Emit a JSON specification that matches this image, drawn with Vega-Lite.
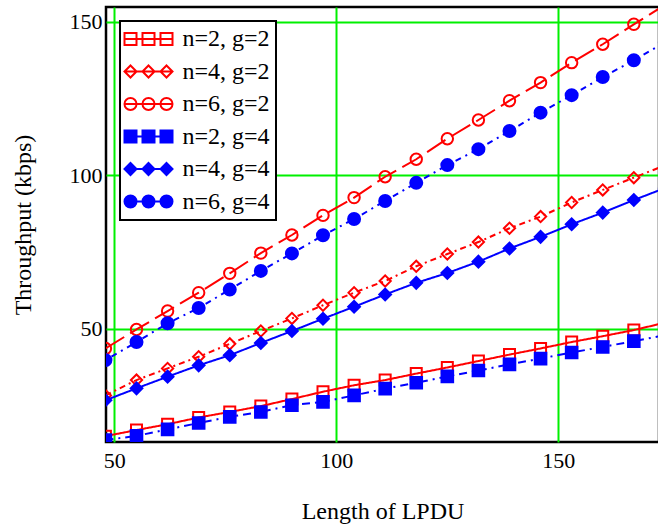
{
  "$schema": "https://vega.github.io/schema/vega-lite/v6.json",
  "width": 553,
  "height": 435,
  "autosize": {"type": "none"},
  "padding": {"left": 106, "top": 7, "right": 0, "bottom": 89},
  "background": "white",
  "config": {
    "view": {"stroke": "black", "strokeWidth": 2.5},
    "font": "Times New Roman, Liberation Serif, DejaVu Serif, serif",
    "axis": {
      "grid": true,
      "gridColor": "#00f000",
      "gridWidth": 2,
      "gridOpacity": 1,
      "ticks": false,
      "domain": false,
      "labelFont": "Times New Roman, Liberation Serif, DejaVu Serif, serif",
      "labelFontSize": 22,
      "labelColor": "black",
      "titleFont": "Times New Roman, Liberation Serif, DejaVu Serif, serif",
      "titleFontSize": 24,
      "titleFontWeight": "normal",
      "titleColor": "black"
    },
    "legend": {
      "orient": "top-left",
      "offset": 14,
      "padding": 6,
      "fillColor": "white",
      "strokeColor": "black",
      "strokeWidth": 2,
      "labelFont": "Times New Roman, Liberation Serif, DejaVu Serif, serif",
      "labelFontSize": 24,
      "labelColor": "black",
      "symbolSize": 144,
      "symbolStrokeWidth": 2,
      "symbolOffset": 10.5,
      "labelOffset": 22,
      "rowPadding": 8.5
    }
  },
  "data": {
    "values": [
      {"x": 48, "n=2, g=2": 14.9, "n=4, g=2": 28.2, "n=6, g=2": 43.5, "n=2, g=4": 13.6, "n=4, g=4": 26.6, "n=6, g=4": 39.7},
      {"x": 55, "n=2, g=2": 16.9, "n=4, g=2": 33.2, "n=6, g=2": 49.7, "n=2, g=4": 15.0, "n=4, g=4": 30.5, "n=6, g=4": 45.6},
      {"x": 62, "n=2, g=2": 18.8, "n=4, g=2": 37.0, "n=6, g=2": 55.7, "n=2, g=4": 17.1, "n=4, g=4": 34.3, "n=6, g=4": 51.7},
      {"x": 69, "n=2, g=2": 21.0, "n=4, g=2": 40.8, "n=6, g=2": 61.7, "n=2, g=4": 19.2, "n=4, g=4": 38.0, "n=6, g=4": 56.7},
      {"x": 76, "n=2, g=2": 22.8, "n=4, g=2": 45.0, "n=6, g=2": 68.0, "n=2, g=4": 21.2, "n=4, g=4": 41.3, "n=6, g=4": 62.7},
      {"x": 83, "n=2, g=2": 24.7, "n=4, g=2": 49.2, "n=6, g=2": 74.6, "n=2, g=4": 22.8, "n=4, g=4": 45.3, "n=6, g=4": 68.8},
      {"x": 90, "n=2, g=2": 27.0, "n=4, g=2": 53.3, "n=6, g=2": 80.5, "n=2, g=4": 25.0, "n=4, g=4": 49.2, "n=6, g=4": 74.5},
      {"x": 97, "n=2, g=2": 29.4, "n=4, g=2": 57.6, "n=6, g=2": 86.9, "n=2, g=4": 26.1, "n=4, g=4": 53.2, "n=6, g=4": 80.4},
      {"x": 104, "n=2, g=2": 31.5, "n=4, g=2": 61.7, "n=6, g=2": 92.7, "n=2, g=4": 28.2, "n=4, g=4": 57.1, "n=6, g=4": 85.7},
      {"x": 111, "n=2, g=2": 33.2, "n=4, g=2": 65.5, "n=6, g=2": 99.5, "n=2, g=4": 30.4, "n=4, g=4": 61.1, "n=6, g=4": 91.6},
      {"x": 118, "n=2, g=2": 35.3, "n=4, g=2": 70.3, "n=6, g=2": 105.2, "n=2, g=4": 32.3, "n=4, g=4": 64.9, "n=6, g=4": 97.5},
      {"x": 125, "n=2, g=2": 37.3, "n=4, g=2": 74.3, "n=6, g=2": 111.9, "n=2, g=4": 34.4, "n=4, g=4": 68.1, "n=6, g=4": 103.3},
      {"x": 132, "n=2, g=2": 39.4, "n=4, g=2": 78.2, "n=6, g=2": 118.0, "n=2, g=4": 36.3, "n=4, g=4": 71.8, "n=6, g=4": 108.5},
      {"x": 139, "n=2, g=2": 41.5, "n=4, g=2": 82.7, "n=6, g=2": 124.3, "n=2, g=4": 38.3, "n=4, g=4": 76.1, "n=6, g=4": 114.4},
      {"x": 146, "n=2, g=2": 43.5, "n=4, g=2": 86.5, "n=6, g=2": 130.2, "n=2, g=4": 40.2, "n=4, g=4": 79.9, "n=6, g=4": 120.4},
      {"x": 153, "n=2, g=2": 45.6, "n=4, g=2": 91.1, "n=6, g=2": 136.7, "n=2, g=4": 42.2, "n=4, g=4": 84.0, "n=6, g=4": 126.1},
      {"x": 160, "n=2, g=2": 47.5, "n=4, g=2": 95.2, "n=6, g=2": 142.7, "n=2, g=4": 44.0, "n=4, g=4": 87.8, "n=6, g=4": 132.0},
      {"x": 167, "n=2, g=2": 49.5, "n=4, g=2": 99.2, "n=6, g=2": 149.2, "n=2, g=4": 45.9, "n=4, g=4": 91.9, "n=6, g=4": 137.5},
      {"x": 174, "n=2, g=2": 51.9, "n=4, g=2": 103.2, "n=6, g=2": 155.5, "n=2, g=4": 47.8, "n=4, g=4": 95.8, "n=6, g=4": 143.3}
    ]
  },
  "transform": [
    {"fold": ["n=2, g=2", "n=4, g=2", "n=6, g=2", "n=2, g=4", "n=4, g=4", "n=6, g=4"], "as": ["series", "y"]}
  ],
  "encoding": {
    "x": {
      "field": "x",
      "type": "quantitative",
      "scale": {"domain": [48.13, 172.67], "nice": false, "zero": false},
      "axis": {"values": [50, 100, 150], "title": "Length of LPDU", "labelPadding": 8, "labelDx": 3, "titlePadding": 28}
    },
    "y": {
      "field": "y",
      "type": "quantitative",
      "scale": {"domain": [13, 154.85], "nice": false, "zero": false},
      "axis": {"values": [50, 100, 150], "title": "Throughput (kbps)", "labelPadding": 4, "labelDy": 2, "titlePadding": 34}
    }
  },
  "layer": [
    {
      "mark": {"type": "line", "strokeWidth": 2, "clip": true},
      "encoding": {
        "color": {
          "field": "series",
          "type": "nominal",
          "scale": {
            "domain": ["n=2, g=2", "n=4, g=2", "n=6, g=2", "n=2, g=4", "n=4, g=4", "n=6, g=4"],
            "range": ["#ff0000", "#ff0000", "#ff0000", "#0000ff", "#0000ff", "#0000ff"]
          },
          "legend": null
        },
        "strokeDash": {
          "field": "series",
          "type": "nominal",
          "scale": {
            "domain": ["n=2, g=2", "n=4, g=2", "n=6, g=2", "n=2, g=4", "n=4, g=4", "n=6, g=4"],
            "range": [[1, 0], [6, 4, 2, 4], [22, 7], [8, 5, 2, 5], [1, 0], [2, 5, 6, 5]]
          },
          "legend": null
        }
      }
    },
    {
      "mark": {"type": "point", "strokeWidth": 2, "filled": true, "opacity": 1, "clip": true},
      "encoding": {
        "stroke": {
          "field": "series",
          "type": "nominal",
          "scale": {
            "domain": ["n=2, g=2", "n=4, g=2", "n=6, g=2", "n=2, g=4", "n=4, g=4", "n=6, g=4"],
            "range": ["#ff0000", "#ff0000", "#ff0000", "#0000ff", "#0000ff", "#0000ff"]
          },
          "legend": null
        },
        "fill": {
          "field": "series",
          "type": "nominal",
          "scale": {
            "domain": ["n=2, g=2", "n=4, g=2", "n=6, g=2", "n=2, g=4", "n=4, g=4", "n=6, g=4"],
            "range": ["transparent", "transparent", "transparent", "#0000ff", "#0000ff", "#0000ff"]
          },
          "legend": null
        },
        "shape": {
          "field": "series",
          "type": "nominal",
          "scale": {
            "domain": ["n=2, g=2", "n=4, g=2", "n=6, g=2", "n=2, g=4", "n=4, g=4", "n=6, g=4"],
            "range": ["square", "diamond", "circle", "square", "diamond", "circle"]
          },
          "legend": null
        },
        "size": {
          "field": "series",
          "type": "nominal",
          "scale": {
            "domain": ["n=2, g=2", "n=4, g=2", "n=6, g=2", "n=2, g=4", "n=4, g=4", "n=6, g=4"],
            "range": [121, 144, 150, 169, 169, 180]
          },
          "legend": null
        }
      }
    },
    {
      "transform": [{"filter": "false"}],
      "mark": {"type": "point", "strokeWidth": 2, "filled": true, "opacity": 1},
      "encoding": {
        "stroke": {
          "field": "series",
          "type": "nominal",
          "scale": {
            "domain": ["n=2, g=2", "n=4, g=2", "n=6, g=2", "n=2, g=4", "n=4, g=4", "n=6, g=4"],
            "range": ["#ff0000", "#ff0000", "#ff0000", "#0000ff", "#0000ff", "#0000ff"]
          },
          "legend": {"title": null}
        },
        "fill": {
          "field": "series",
          "type": "nominal",
          "scale": {
            "domain": ["n=2, g=2", "n=4, g=2", "n=6, g=2", "n=2, g=4", "n=4, g=4", "n=6, g=4"],
            "range": ["transparent", "transparent", "transparent", "#0000ff", "#0000ff", "#0000ff"]
          },
          "legend": {"title": null}
        },
        "shape": {
          "field": "series",
          "type": "nominal",
          "scale": {
            "domain": ["n=2, g=2", "n=4, g=2", "n=6, g=2", "n=2, g=4", "n=4, g=4", "n=6, g=4"],
            "range": [
              "M-4,0H4M-4,-1H-2V1H-4ZM-1,-1H1V1H-1ZM2,-1H4V1H2Z",
              "M-4,0H4M-3,-1L-2,0L-3,1L-4,0ZM0,-1L1,0L0,1L-1,0ZM3,-1L4,0L3,1L2,0Z",
              "M-4,0H4M-4,0A1,1,0,1,1,-2,0A1,1,0,1,1,-4,0ZM-1,0A1,1,0,1,1,1,0A1,1,0,1,1,-1,0ZM2,0A1,1,0,1,1,4,0A1,1,0,1,1,2,0Z",
              "M-4,0H4M-4,-1H-2V1H-4ZM-1,-1H1V1H-1ZM2,-1H4V1H2Z",
              "M-4,0H4M-3,-1L-2,0L-3,1L-4,0ZM0,-1L1,0L0,1L-1,0ZM3,-1L4,0L3,1L2,0Z",
              "M-4,0H4M-4,0A1,1,0,1,1,-2,0A1,1,0,1,1,-4,0ZM-1,0A1,1,0,1,1,1,0A1,1,0,1,1,-1,0ZM2,0A1,1,0,1,1,4,0A1,1,0,1,1,2,0Z"
            ]
          },
          "legend": {"title": null}
        }
      }
    }
  ],
  "resolve": {"scale": {"shape": "independent", "stroke": "independent", "fill": "independent"}}
}
